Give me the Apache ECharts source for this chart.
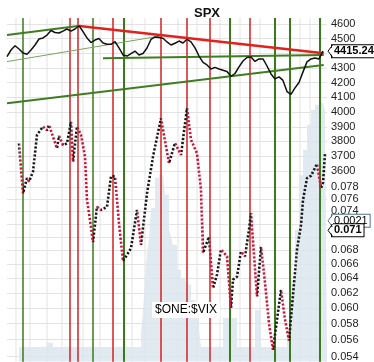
<!DOCTYPE html>
<html><head><meta charset="utf-8">
<script src="https://cdn.jsdelivr.net/npm/echarts@6/dist/echarts.min.js"></script>
<style>html,body{margin:0;padding:0;background:#fff}#c{width:374px;height:362px}</style>
</head><body><div id="c"></div>
<script>
// SPX closes, one value every 2 sessions starting at session 0
const spxStep = 2;
const spxValues = [
 4378,4423,4452,4430,4403,4394,4423,4457,4498,4505,
 4525,4556,4542,4539,4552,4566,4552,4566,4588,4548,
 4505,4474,4491,4501,4471,4462,4462,4480,4437,4389,
 4382,4399,4416,4389,4399,4437,4495,4512,4508,4503,
 4478,4457,4469,4484,4471,4496,4478,4437,4382,4338,
 4321,4294,4305,4294,4285,4276,4243,4263,4308,4348,
 4372,4376,4345,4362,4362,4314,4260,4226,4240,4216,
 4140,4121,4165,4202,4274,4342,4362,4369,4362,4415.24];
const spxTicks = [3600,3700,3800,3900,4000,4100,4200,4300,4400,4500,4600];
const spxLabelTicks = [3600,3700,3800,3900,4000,4100,4200,4300,4500,4600];
const SPX_MIN = 2300, SPX_MAX = 4641;

// $ONE:$VIX dotted line (session, value)
const vixDays = [6,8,10,11,13,15,16,18,20,21,25,26,28,30,32,33,35,37,39,40,41,43,45,47,50,52,54,56,58,60,62,65,67,70,73,77,81,84,87,90,92,95,97,98,101,103,105,107,110,112,113,115,117,119,121,122,125,127,129,131,133,137,139,141,145,147,148,150,152,155,157,158,159];
const vixValues = [0.0857,0.0769,0.0795,0.0789,0.0806,0.0873,0.0876,0.0889,0.0882,0.0892,0.0848,0.0871,0.0854,0.0857,0.0898,0.0824,0.0889,0.0873,0.0833,0.0758,0.0737,0.0692,0.0747,0.0742,0.0747,0.0798,0.0798,0.0721,0.0664,0.0673,0.0683,0.0742,0.0688,0.0769,0.0833,0.0905,0.0821,0.0858,0.0836,0.0925,0.0864,0.0839,0.0775,0.0676,0.0700,0.0626,0.0645,0.0681,0.0671,0.0600,0.0638,0.0642,0.0678,0.0671,0.0711,0.0737,0.0615,0.0685,0.0634,0.0580,0.0548,0.0624,0.0585,0.0559,0.0681,0.0718,0.0758,0.0795,0.0799,0.0820,0.0778,0.0787,0.0838];
const ratioTicks = [0.054,0.056,0.058,0.060,0.062,0.064,0.066,0.068,0.070,0.072,0.074,0.076,0.078];
const ratioLabelTicks = [0.054,0.056,0.058,0.060,0.062,0.064,0.066,0.068,0.074,0.076,0.078];
const ratioLast = 0.071;

// background indicator histogram (session, value)
const areaDays = [6,20,23,67,68,69,70,71,72,74,76,78,79,81,82,83,85,87,89,90,92,94,96,97,108,115,124,127,140,142,144,146,148,150,152,154,156,158,159,160];
const areaValues = [0.00022,0.00028,0.00022,0.00043,0.00077,0.00122,0.00164,0.00182,0.00229,0.00274,0.00278,0.00281,0.00249,0.00197,0.00185,0.00174,0.00137,0.00125,0.00122,0.00115,0.00092,0.00070,0.00048,0.00022,0.00065,0.00022,0.00077,0.00022,0.00048,0.00122,0.00197,0.00278,0.00316,0.00353,0.00375,0.00383,0.00386,0.00386,0.00375,0];
const indicatorLast = 0.0021;

// vertical marker sessions
const greenDays = [8,43,58.5,111.5,134,141.5,156.5];
const redDays = [31.5,35.5,53,77,90,101.5,121.5];
const gridDays = [4.5,11.5,20,27.5,38,46.5,62.5,69,85.5,95,106.5,116.5,126.5,146.5,151.5];

// trend lines on SPX scale: [startSession, endSession] / [startValue, endValue]
const trendDays = [[0,35.5],[0,76.5],[0,158.35],[48,158.35],[36.15,158.35]];
const trendValues = [[4525,4586],[4344,4518],[4061,4321],[4367,4389],[4586,4401]];

const trendStyles = [
  {color:'#3f7d22', width:2},
  {color:'#7aa55e', width:1},
  {color:'#3f7d22', width:2},
  {color:'#3f7d22', width:2},
  {color:'#e3211c', width:2.5}
];
const greenWidths = [1.5,1.5,2,2,2,2,2];
const FONT = 'Arial, "Liberation Sans", sans-serif';

const spxData = spxValues.map((v,i)=>[i*spxStep, v]);
const vixData = vixDays.map((d,i)=>[d, vixValues[i]]);
const areaData = areaDays.map((d,i)=>[d, areaValues[i]]);
const spxLast = spxValues[spxValues.length-1];

const pieces = [];
for (let i=0;i<vixDays.length-1;i++){
  const up = vixValues[i+1] >= vixValues[i];
  const p = {gte: vixDays[i], color: up ? '#1a1a1a' : '#c8163c'};
  if (i < vixDays.length-2) p.lt = vixDays[i+1]; else p.lte = vixDays[i+1];
  pieces.push(p);
}

function vline(d, color, width, z){
  return {type:'line', xAxisIndex:0, yAxisIndex:0, symbol:'none', silent:true, z:z,
    data:[[d, SPX_MIN],[d, SPX_MAX]], lineStyle:{color:color, width:width}};
}

const series = [];
gridDays.forEach(d=>series.push(vline(d, '#e3e3e3', 1, 0)));
series.push({type:'line', name:'indicator', xAxisIndex:0, yAxisIndex:2, data:areaData, step:'end', symbol:'none',
   lineStyle:{width:0, opacity:0}, areaStyle:{color:'#dce6ee', opacity:0.85}, z:1, silent:true});
greenDays.forEach((d,i)=>series.push(vline(d, '#3a7a1c', greenWidths[i], 2)));
redDays.forEach(d=>series.push(vline(d, '#d42020', 1.5, 2)));
trendDays.forEach((td,i)=>{
  series.push({type:'line', xAxisIndex:0, yAxisIndex:0, symbol:'none', silent:true, z:3,
    data:[[td[0],trendValues[i][0]],[td[1],trendValues[i][1]]],
    lineStyle:{color:trendStyles[i].color, width:trendStyles[i].width}});
});
series.push({type:'line', name:'SPX', xAxisIndex:0, yAxisIndex:0, data:spxData, symbol:'none', z:5,
  lineStyle:{color:'#111', width:1.5}});
series.push({type:'line', name:'$ONE:$VIX', xAxisIndex:0, yAxisIndex:1, data:vixData, symbol:'none', z:6,
  lineStyle:{width:2.6, type:[2.2,1.8]}});
const vixIndex = series.length-1;

const chart = echarts.init(document.getElementById('c'), null, {renderer:'canvas'});
chart.setOption({
  animation:false,
  backgroundColor:'#fff',
  tooltip:{show:false},
  title:[
    {text:'SPX', left:189, top:2, textStyle:{fontFamily:FONT, fontSize:13, fontWeight:'bold', color:'#111'}},
    {text:'$ONE:$VIX', left:152, top:302, backgroundColor:'#fff', padding:[2,3],
     textStyle:{fontFamily:FONT, fontSize:12, fontWeight:'normal', color:'#000'}}
  ],
  grid:{left:7, right:47, top:18, bottom:0, containLabel:false, show:false},
  visualMap:[{type:'piecewise', show:false, dimension:0, seriesIndex:vixIndex, pieces:pieces, outOfRange:{color:'#1a1a1a'}}],
  xAxis:[{type:'value', min:0, max:160, show:false, axisLine:{show:false}, axisLabel:{show:false},
    axisTick:{show:false}, splitLine:{show:false}}],
  yAxis:[
    {type:'value', position:'right', min:SPX_MIN, max:SPX_MAX,
     axisLine:{show:false, onZero:false}, axisTick:{show:false, customValues:spxTicks},
     axisLabel:{show:true, customValues:spxLabelTicks, margin:4, color:'#222', fontSize:11, fontFamily:FONT,
       formatter:v=>String(Math.round(v))},
     splitLine:{show:true, lineStyle:{color:'#e3e3e3', width:1}}},
    {type:'log', position:'right', min:0.0534, max:0.1125,
     axisLine:{show:false, onZero:false}, axisTick:{show:false, customValues:ratioTicks},
     axisLabel:{show:true, customValues:ratioLabelTicks, margin:4, color:'#222', fontSize:11, fontFamily:FONT,
       formatter:v=>Number(v).toFixed(3)},
     splitLine:{show:true, lineStyle:{color:'#e3e3e3', width:1}}},
    {type:'value', position:'right', min:0, max:0.005123, show:false,
     axisLine:{show:false, onZero:false}, axisTick:{show:false}, axisLabel:{show:false}, splitLine:{show:false}}
  ],
  series:series
});

// value tags placed through the axes' own scales
const xEdge = chart.convertToPixel({xAxisIndex:0}, 160);
function tag(y, text, bold, border){
  return [
    {type:'text', z:100, x:xEdge+5, y:y, style:{text:text, fill:'#000', align:'left', verticalAlign:'middle',
      font:(bold?'bold ':'')+'11px '+FONT, backgroundColor:'#fff', borderColor:border, borderWidth:1,
      padding:[1,2,0,2], lineHeight:11}},
    {type:'polygon', z:101, shape:{points:[[xEdge+1,y],[xEdge+6,y-5],[xEdge+6,y+5]]}, style:{fill:'#fff', stroke:null}},
    {type:'polyline', z:102, shape:{points:[[xEdge+5.5,y-6],[xEdge+1,y],[xEdge+5.5,y+6]]}, style:{stroke:border, lineWidth:1, fill:null}}
  ];
}
chart.setOption({graphic:[].concat(
  tag(chart.convertToPixel({yAxisIndex:0}, spxLast), spxLast.toFixed(2), true, '#000'),
  tag(chart.convertToPixel({yAxisIndex:2}, indicatorLast), indicatorLast.toFixed(4), false, '#4f7396'),
  tag(chart.convertToPixel({yAxisIndex:1}, ratioLast), ratioLast.toFixed(3), true, '#000'))});
</script></body></html>
